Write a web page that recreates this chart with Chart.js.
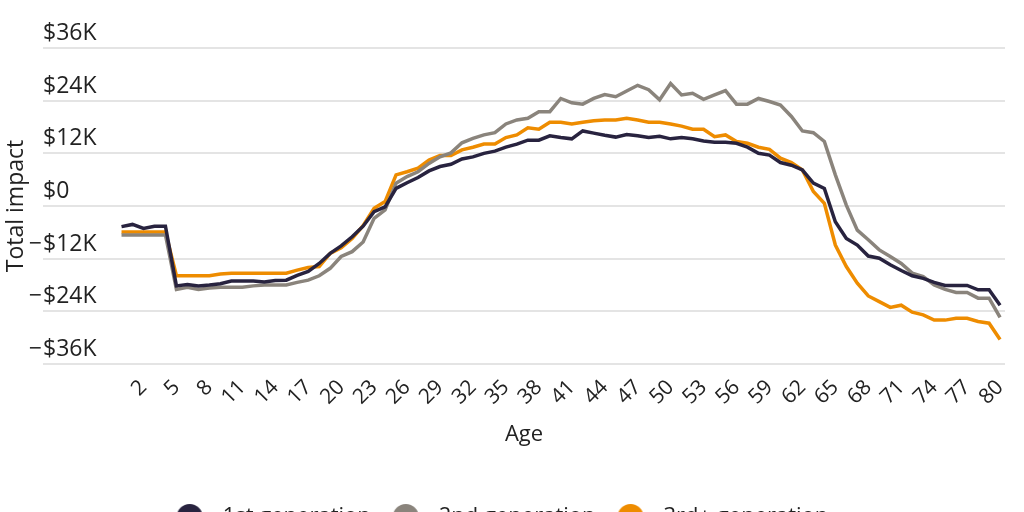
<!DOCTYPE html>
<html>
<head>
<meta charset="utf-8">
<script src="https://cdn.jsdelivr.net/npm/chart.js@4.4.1/dist/chart.umd.min.js"></script>
<style>
  html, body { margin: 0; padding: 0; background: #fff; overflow: hidden; }
  #wrap { width: 1024px; height: 540px; position: relative; }
</style>
</head>
<body>
<div id="wrap"><canvas id="impact_chart"></canvas></div>
<script>
// ages 0..80, values in $K
const ages = [
  0, 1, 2, 3, 4, 5, 6, 7, 8, 9, 10, 11, 12, 13, 14, 15, 16, 17, 18, 19, 20,
  21, 22, 23, 24, 25, 26, 27, 28, 29, 30, 31, 32, 33, 34, 35, 36, 37, 38, 39, 40,
  41, 42, 43, 44, 45, 46, 47, 48, 49, 50, 51, 52, 53, 54, 55, 56, 57, 58, 59, 60,
  61, 62, 63, 64, 65, 66, 67, 68, 69, 70, 71, 72, 73, 74, 75, 76, 77, 78, 79, 80,
];

const firstGen = [
  -4.7, -4.2, -5.1, -4.6, -4.6, -18.2, -17.9, -18.2, -18.0, -17.7, -17.1,
  -17.1, -17.1, -17.3, -17.0, -16.9, -15.8, -14.9, -13.1, -10.8, -9.1,
  -7.0, -4.6, -1.3, -0.2, 4.0, 5.3, 6.5, 8.0, 9.0, 9.5,
  10.7, 11.2, 12.0, 12.5, 13.4, 14.1, 15.0, 15.0, 16.0, 15.6,
  15.3, 17.1, 16.6, 16.1, 15.7, 16.3, 16.0, 15.6, 15.9, 15.3,
  15.6, 15.3, 14.8, 14.5, 14.5, 14.3, 13.4, 12.0, 11.6, 9.9,
  9.3, 8.2, 5.2, 4.0, -3.6, -7.4, -8.9, -11.4, -11.9, -13.4,
  -14.7, -15.9, -16.5, -17.4, -18.1, -18.1, -18.1, -19.1, -19.1, -22.6,
];

const secondGen = [
  -6.6, -6.6, -6.6, -6.6, -6.6, -19.0, -18.5, -19.0, -18.7, -18.5, -18.5,
  -18.5, -18.2, -18.0, -18.0, -18.0, -17.4, -16.9, -15.9, -14.2, -11.5,
  -10.4, -8.2, -2.8, -0.9, 5.2, 6.7, 7.8, 9.7, 11.2, 12.1,
  14.4, 15.4, 16.2, 16.7, 18.7, 19.6, 20.0, 21.5, 21.5, 24.5,
  23.5, 23.2, 24.5, 25.4, 24.9, 26.2, 27.5, 26.5, 24.2, 27.9,
  25.3, 25.7, 24.3, 25.3, 26.3, 23.2, 23.2, 24.5, 23.8, 23.0,
  20.4, 17.1, 16.7, 14.7, 7.1, 0.2, -5.5, -7.7, -10.0, -11.5,
  -13.1, -15.3, -16.1, -18.0, -19.0, -19.7, -19.7, -21.0, -21.0, -25.4,
];

const thirdGen = [
  -5.9, -5.9, -5.9, -5.9, -5.9, -15.9, -15.9, -15.9, -15.9, -15.5, -15.3,
  -15.3, -15.3, -15.3, -15.3, -15.3, -14.6, -14.0, -13.8, -10.8, -9.5,
  -7.4, -4.5, -0.5, 1.0, 7.1, 7.8, 8.6, 10.5, 11.5, 11.5,
  12.8, 13.4, 14.1, 14.1, 15.6, 16.2, 17.8, 17.5, 19.1, 19.1,
  18.7, 19.1, 19.4, 19.6, 19.6, 20.0, 19.6, 19.1, 19.1, 18.7,
  18.2, 17.5, 17.5, 15.8, 16.2, 14.7, 14.3, 13.4, 12.9, 10.9,
  9.9, 8.2, 3.3, 0.6, -8.9, -13.8, -17.6, -20.5, -21.8, -23.1,
  -22.6, -24.2, -24.8, -26.0, -26.0, -25.6, -25.6, -26.3, -26.7, -30.4,
];

const seriesNames = ["1st generation", "2nd generation", "3rd+ generation"];
const seriesColors = ["#28233f", "#8a847c", "#ee8c00"];

const ageTicks = [2, 5, 8, 11, 14, 17, 20, 23, 26, 29, 32, 35, 38, 41, 44, 47, 50, 53, 56, 59, 62, 65, 68, 71, 74, 77, 80];
const impactTicks = [-36, -24, -12, 0, 12, 24, 36];

const FONT = "'Open Sans', 'DejaVu Sans', sans-serif";
const DOT_W = 35; // legend marker box, circle sits at its left

// legend dot with some room before the text
function legendDot(color) {
  const c = document.createElement("canvas");
  c.width = DOT_W;
  c.height = 26;
  const g = c.getContext("2d");
  g.fillStyle = color;
  g.beginPath();
  g.arc(13, 13, 13, 0, Math.PI * 2);
  g.fill();
  return c;
}

// y labels sit above their gridline, minus sign hangs left of the "$"
const yLabels = {
  id: "yLabels",
  afterDraw(chart) {
    const { ctx } = chart;
    const y = chart.scales.y;
    ctx.save();
    ctx.font = "23px " + FONT;
    ctx.fillStyle = "#222";
    ctx.textBaseline = "alphabetic";
    y.ticks.forEach((t) => {
      const py = y.getPixelForValue(t.value) - 8;
      const txt = t.value === 0 ? "$0" : "$" + Math.abs(t.value) + "K";
      ctx.textAlign = "left";
      ctx.fillText(txt, y.right, py);
      if (t.value < 0) {
        ctx.textAlign = "right";
        ctx.fillText("\u2212", y.right - 1, py);
      }
    });
    ctx.restore();
  },
};

const ctx = document.getElementById("impact_chart");

const impact_chart = new Chart(ctx, {
  type: "line",
  data: {
    labels: ages,
    datasets: [firstGen, secondGen, thirdGen].map((vals, i) => ({
      label: seriesNames[i],
      data: vals,
      borderColor: seriesColors[i],
      backgroundColor: seriesColors[i],
      pointStyle: legendDot(seriesColors[i]),
      borderWidth: 3.5,
      pointRadius: 0,
      tension: 0,
      fill: false,
    })),
  },
  options: {
    responsive: true,
    maintainAspectRatio: false,
    animation: false,
    layout: { padding: { top: 48, right: 19, left: 0, bottom: 2 } },
    scales: {
      x: {
        type: "linear",
        min: -7.15,
        max: 80.45,
        afterBuildTicks: (s) => {
          s.ticks = ageTicks.map((v) => ({ value: v }));
        },
        afterFit: (s) => {
          s.height = 120;
        },
        grid: { display: false },
        border: { display: false },
        ticks: {
          autoSkip: false,
          maxRotation: 45,
          minRotation: 45,
          padding: 3,
          color: "#222",
          font: { family: FONT, size: 21 },
        },
        title: {
          display: true,
          text: "Age",
          color: "#222",
          font: { family: FONT, size: 22 },
          padding: { top: 0, bottom: 36 },
        },
      },
      y: {
        min: -36,
        max: 36,
        afterBuildTicks: (s) => {
          s.ticks = impactTicks.map((v) => ({ value: v }));
        },
        afterFit: (s) => {
          s.width = 43;
        },
        grid: { color: "#e4e4e4", lineWidth: 2, drawTicks: false },
        border: { display: false },
        ticks: { display: false },
        title: {
          display: true,
          text: "Total impact",
          color: "#222",
          font: { family: FONT, size: 23 },
          padding: { top: 3, bottom: 0 },
        },
      },
    },
    plugins: {
      legend: {
        position: "bottom",
        labels: {
          usePointStyle: true,
          pointStyleWidth: DOT_W,
          boxHeight: 18,
          padding: 22,
          color: "#222",
          font: { family: FONT, size: 22 },
        },
      },
      tooltip: { enabled: false },
    },
  },
  plugins: [yLabels],
});
</script>
</body>
</html>
